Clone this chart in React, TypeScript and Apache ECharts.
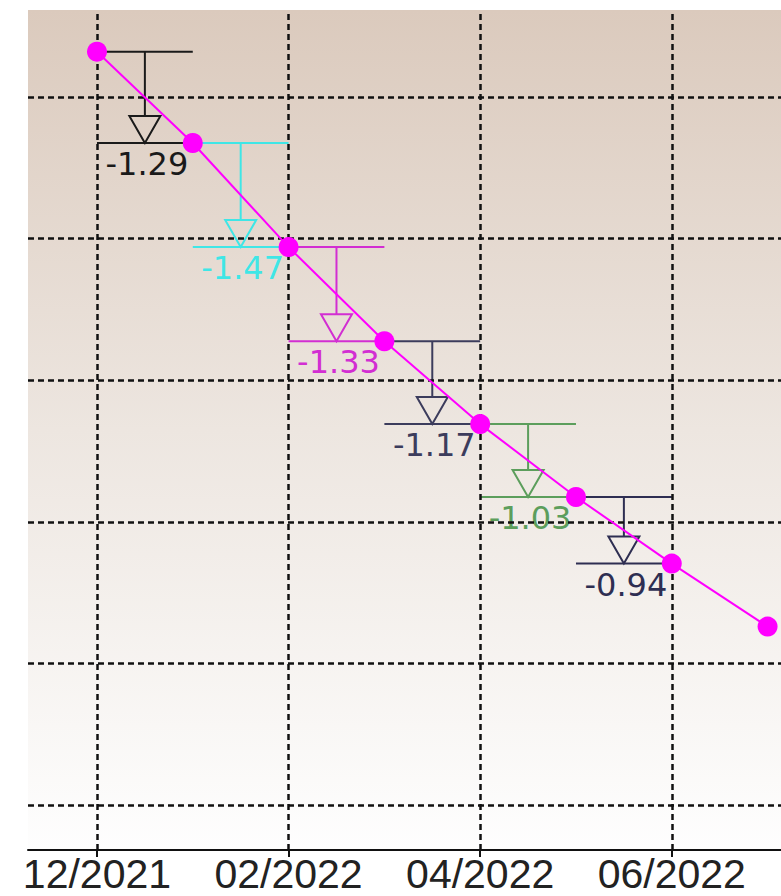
import React, { useEffect, useRef } from "react";
import * as echarts from "echarts";

const months = ["12/2021", "01/2022", "02/2022", "03/2022", "04/2022", "05/2022", "06/2022", "07/2022"];
const values = [12.64, 11.35, 9.88, 8.55, 7.38, 6.35, 5.41, 4.52];
const stepLabels = ["-1.29", "-1.47", "-1.33", "-1.17", "-1.03", "-0.94"];
const stepColors = ["#1a1a1a", "#3fe6e6", "#d22ed2", "#3c3c5c", "#5c9e5c", "#2e2e52"];
const xTickValues = [0, 2, 4, 6];
const yGridValues = [2, 4, 6, 8, 10, 12];

export default function App() {
  const ref = useRef<HTMLDivElement>(null);
  useEffect(() => {
    if (!ref.current) return;
    const chart = echarts.init(ref.current, null, { renderer: "svg" });
    const lineData = values.map((v, i) => [i, v]);
    const stepData = stepLabels.map((s, i) => [i, values[i], values[i + 1], i]);
    const option: any = {
      animation: false,
      grid: {
        left: 28,
        right: 0,
        top: 10,
        bottom: 46,
        show: true,
        borderWidth: 0,
        backgroundColor: new echarts.graphic.LinearGradient(0, 0, 0, 1, [
          { offset: 0, color: "#dbcabd" },
          { offset: 0.5, color: "#ede6e0" },
          { offset: 1, color: "#fefefe" },
        ]),
      },
      xAxis: {
        type: "value",
        min: -0.72,
        max: 7.14,
        splitLine: { show: false },
        axisLine: { show: true, onZero: false, lineStyle: { color: "#111", width: 2 } },
        axisTick: { show: true, length: 7, customValues: xTickValues, lineStyle: { color: "#111", width: 2 } },
        axisLabel: {
          customValues: xTickValues,
          margin: 3,
          color: "#222",
          fontFamily: "Liberation Sans",
          fontSize: 41,
          lineHeight: 41,
          formatter: (v: number) => {
            const r = Math.round(v);
            if (Math.abs(v - r) > 1e-6 || r < 0 || r >= months.length) return "";
            return months[r];
          },
        },
      },
      yAxis: {
        type: "value",
        min: 1.364,
        max: 13.229,
        show: false,
        splitLine: { show: false },
      },
      series: [
        {
          type: "line",
          data: lineData,
          symbol: "none",
          lineStyle: { width: 0, opacity: 0 },
          z: 1,
          silent: true,
          markLine: {
            silent: true,
            symbol: ["none", "none"],
            label: { show: false },
            lineStyle: { color: "#111", width: 2.5, type: [6, 4] },
            data: [
              ...yGridValues.map((v) => ({ yAxis: v })),
              ...xTickValues.map((v) => ({ xAxis: v })),
            ],
          },
        },
        {
          type: "custom",
          data: stepData,
          z: 3,
          renderItem: (params: any, api: any) => {
            const i = api.value(0);
            const yTop = api.value(1);
            const yBot = api.value(2);
            const idx = api.value(3);
            const color = stepColors[idx];
            const pTL = api.coord([i, yTop]);
            const pTR = api.coord([i + 1, yTop]);
            const pBL = api.coord([i, yBot]);
            const pBR = api.coord([i + 1, yBot]);
            const mx = (pTL[0] + pTR[0]) / 2;
            const tb = pBL[1];
            const triH = 27;
            const triW = 31;
            const ls = { stroke: color, lineWidth: 2, fill: "none" };
            return {
              type: "group",
              children: [
                { type: "line", shape: { x1: pTL[0], y1: pTL[1], x2: pTR[0], y2: pTR[1] }, style: ls },
                { type: "line", shape: { x1: pBL[0], y1: pBL[1], x2: pBR[0], y2: pBR[1] }, style: ls },
                { type: "line", shape: { x1: mx, y1: pTL[1], x2: mx, y2: tb - triH }, style: ls },
                {
                  type: "polygon",
                  shape: { points: [[mx - triW / 2, tb - triH], [mx + triW / 2, tb - triH], [mx, tb]] },
                  style: ls,
                },
                {
                  type: "text",
                  style: {
                    text: stepLabels[idx],
                    x: mx + 2,
                    y: tb + 5,
                    align: "center",
                    verticalAlign: "top",
                    fill: color,
                    fontFamily: "DejaVu Sans",
                    fontSize: 32,
                  },
                },
              ],
            };
          },
        },
        {
          type: "line",
          data: lineData,
          z: 5,
          symbol: "circle",
          symbolSize: 20,
          itemStyle: { color: "#ff00ff" },
          lineStyle: { color: "#ff00ff", width: 2 },
        },
      ],
    };
    chart.setOption(option);
    return () => chart.dispose();
  }, []);
  return (
    <div
      ref={ref}
      style={{ position: "absolute", left: 0, top: 0, width: 781, height: 896 }}
    />
  );
}
